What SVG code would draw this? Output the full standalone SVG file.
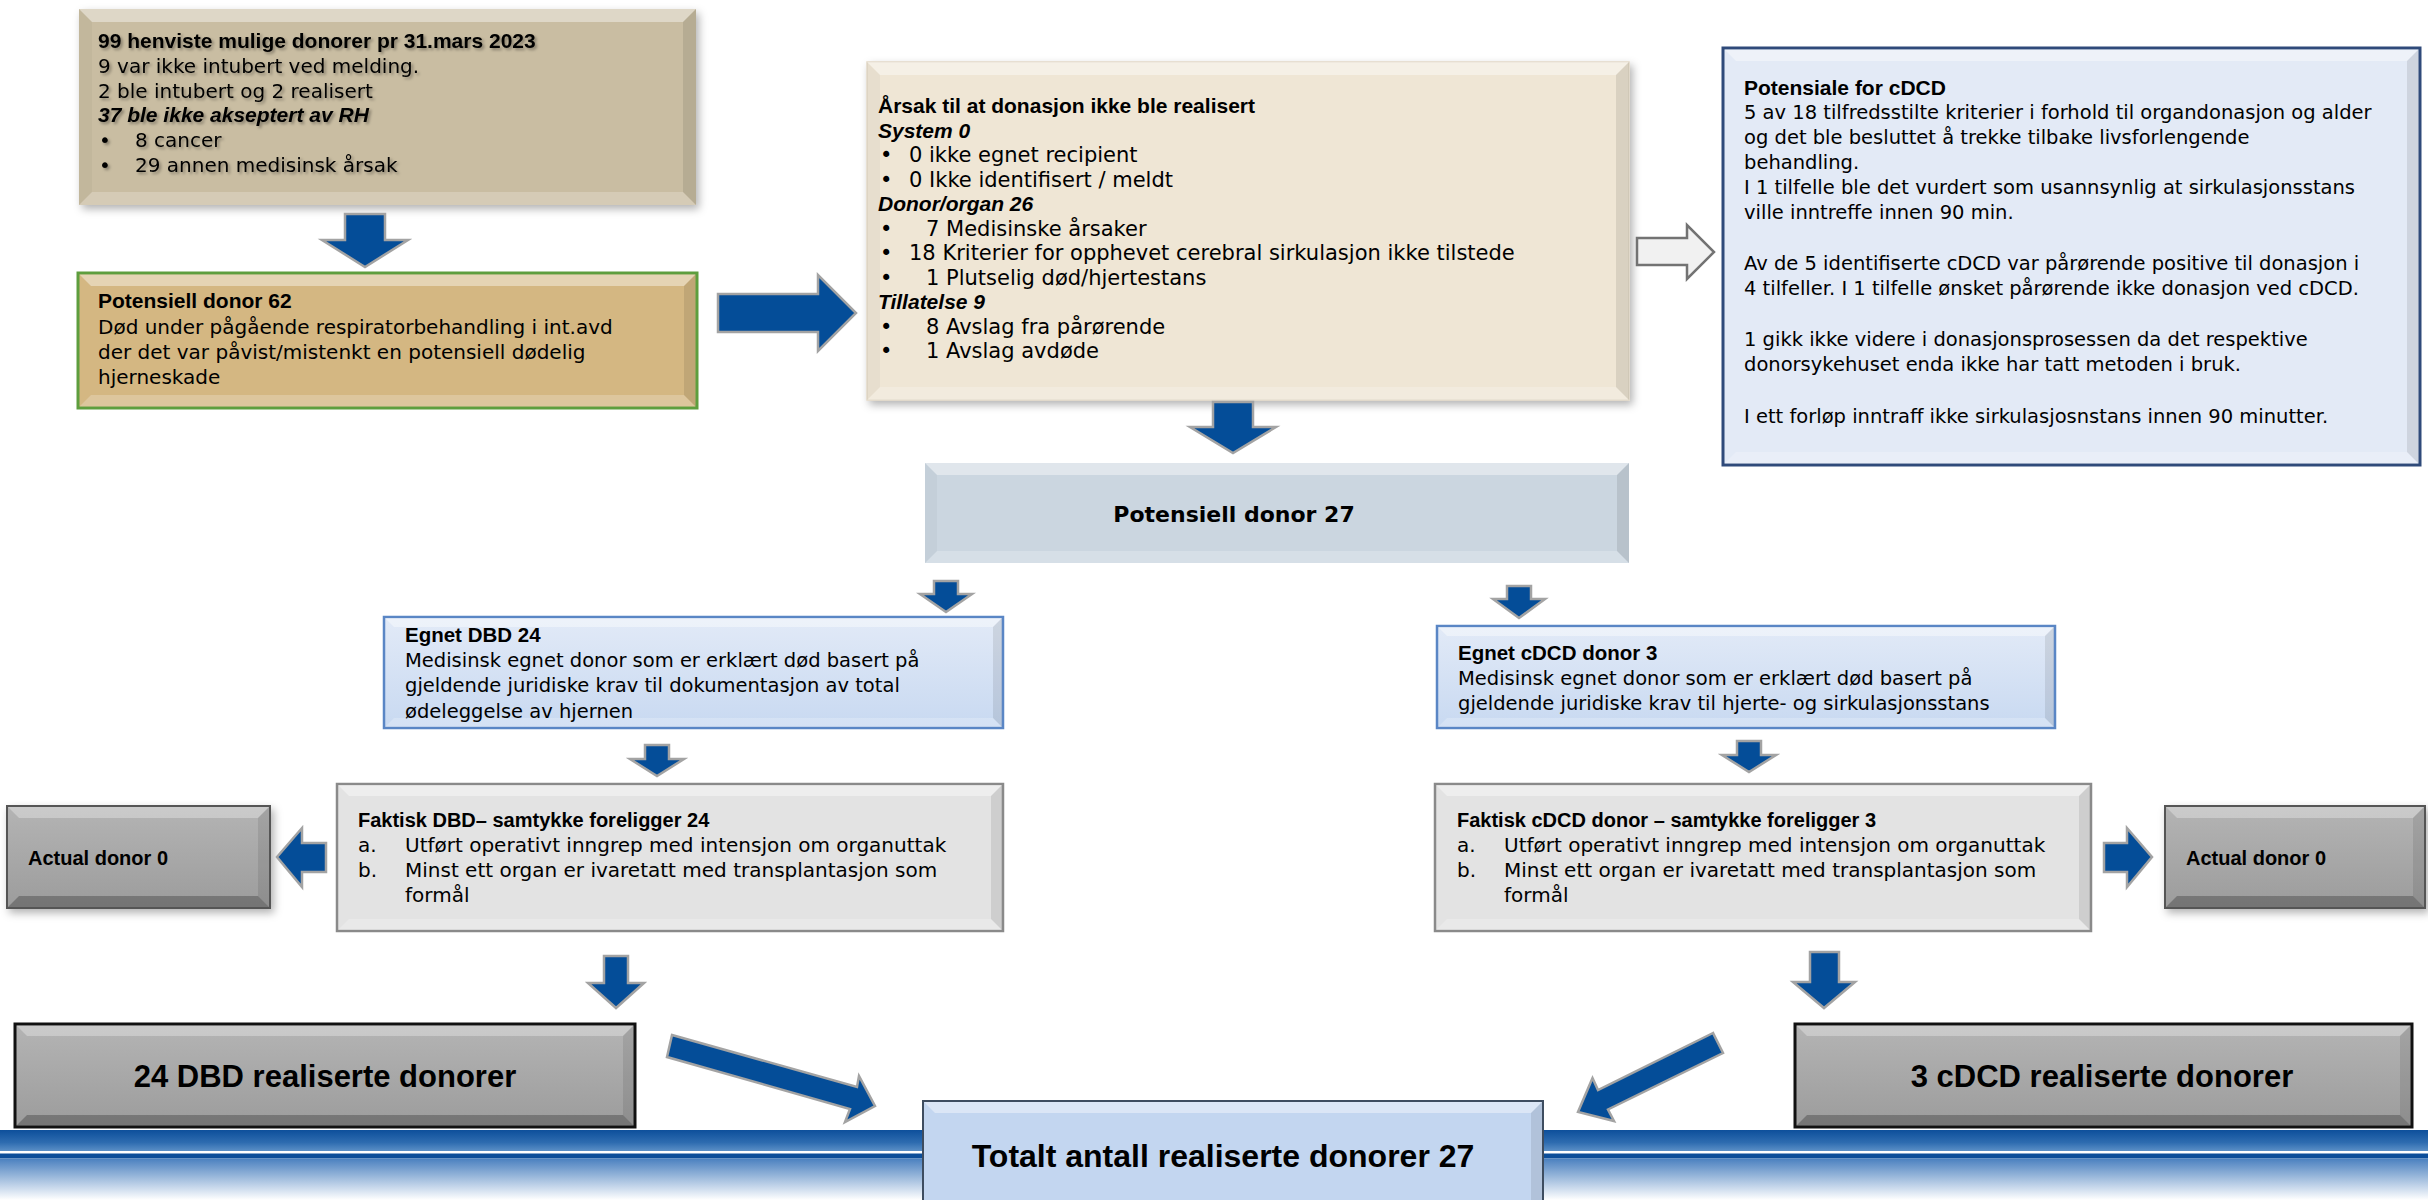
<svg xmlns="http://www.w3.org/2000/svg" width="2428" height="1200" viewBox="0 0 2428 1200">
<defs>
<style>
.t{font-family:"DejaVu Sans","Liberation Sans",Arial,sans-serif;font-size:20px;fill:#000}
.b{font-family:"Liberation Sans",Arial,sans-serif;font-weight:bold;font-size:21px}
.bi{font-family:"Liberation Sans",Arial,sans-serif;font-weight:bold;font-style:italic;font-size:21px}
.big{font-family:"Liberation Sans",Arial,sans-serif;font-weight:bold;font-size:31px;fill:#000}
.bt{fill:#fff;fill-opacity:.4}
.bb{fill:#fff;fill-opacity:.22}
.bl{fill:#000;fill-opacity:.03}
.br{fill:#000;fill-opacity:.09}
.dbt{fill:#fff;fill-opacity:.3}
.dbb{fill:#000;fill-opacity:.25}
.arr{fill:#044d98;stroke:#a3a3a3;stroke-width:2.5;stroke-linejoin:miter}
.hol{fill:#f1f1f1;stroke:#737373;stroke-width:2.5}
</style>
<filter id="sh" x="-5%" y="-5%" width="115%" height="130%"><feDropShadow dx="3" dy="4" stdDeviation="4" flood-color="#000" flood-opacity="0.3"/></filter>
<filter id="ts" x="-5%" y="-20%" width="115%" height="160%"><feDropShadow dx="2" dy="2" stdDeviation="1.5" flood-color="#000" flood-opacity="0.35"/></filter>
<linearGradient id="gBlue" x1="0" y1="0" x2="0" y2="1"><stop offset="0" stop-color="#e2eaf7"/><stop offset="1" stop-color="#c8d9f1"/></linearGradient>
<linearGradient id="gGray" x1="0" y1="0" x2="0" y2="1"><stop offset="0" stop-color="#b4b4b4"/><stop offset="1" stop-color="#9c9c9c"/></linearGradient>
<linearGradient id="gBand" x1="0" y1="0" x2="0" y2="1"><stop offset="0" stop-color="#0d4f9b"/><stop offset="0.6" stop-color="#2e6cb0"/><stop offset="1" stop-color="#5b8fc6"/></linearGradient>
<linearGradient id="gFade" x1="0" y1="0" x2="0" y2="1"><stop offset="0" stop-color="#4a80bf"/><stop offset="1" stop-color="#ffffff"/></linearGradient>
</defs>
<rect width="2428" height="1200" fill="#fff"/>

<g id="band">
<rect x="0" y="1130" width="2428" height="21" fill="url(#gBand)"/>
<rect x="0" y="1151" width="2428" height="2.5" fill="#ffffff"/>
<rect x="0" y="1153.5" width="2428" height="5" fill="#0c4e9a"/>
<rect x="0" y="1158.5" width="2428" height="41.5" fill="url(#gFade)"/>
</g>

<g id="n1">
<rect x="79" y="9" width="617" height="196" fill="#c9bda2" filter="url(#sh)"/>
<polygon class="bt" points="79,9 696,9 683,22 92,22"/>
<polygon class="bb" points="79,205 696,205 683,192 92,192"/>
<polygon class="bl" points="79,9 92,22 92,192 79,205"/>
<polygon class="br" points="696,9 683,22 683,192 696,205"/>
<g class="t" filter="url(#ts)">
<text x="98" y="48" class="b">99 henviste mulige donorer pr 31.mars 2023</text>
<text x="98" y="73">9 var ikke intubert ved melding.</text>
<text x="98" y="98">2 ble intubert og 2 realisert</text>
<text x="98" y="122" class="bi">37 ble ikke akseptert av RH</text>
<text x="99" y="147">•</text><text x="135" y="147">8 cancer</text>
<text x="99" y="172">•</text><text x="135" y="172">29 annen medisinsk årsak</text>
</g>
</g>

<g id="n2">
<rect x="78" y="273" width="619" height="135" fill="#d4b782" stroke="#5e9e3e" stroke-width="3"/>
<polygon class="bt" points="79.5,274.5 695.5,274.5 684,286 91,286"/>
<polygon class="bb" points="79.5,406.5 695.5,406.5 684,395 91,395"/>
<polygon class="br" points="695.5,274.5 684,286 684,395 695.5,406.5"/>
<g class="t">
<text x="98" y="308" class="b">Potensiell donor 62</text>
<text x="98" y="334">Død under pågående respiratorbehandling i int.avd</text>
<text x="98" y="359">der det var påvist/mistenkt en potensiell dødelig</text>
<text x="98" y="384">hjerneskade</text>
</g>
</g>

<g id="n3">
<rect x="867" y="62" width="762" height="338" fill="#efe6d5" stroke="#e2d8c6" stroke-width="1.5" filter="url(#sh)"/>
<polygon class="bt" points="867,62 1629,62 1616,75 880,75"/>
<polygon class="bb" points="867,400 1629,400 1616,387 880,387"/>
<polygon class="bl" points="867,62 880,75 880,387 867,400"/>
<polygon class="br" points="1629,62 1616,75 1616,387 1629,400"/>
<g class="t" style="font-size:21px">
<text x="878" y="113" class="b">Årsak til at donasjon ikke ble realisert</text>
<text x="878" y="137.5" class="bi">System 0</text>
<text x="880" y="162">•</text><text x="909" y="162">0 ikke egnet recipient</text>
<text x="880" y="186.5">•</text><text x="909" y="186.5">0 Ikke identifisert / meldt</text>
<text x="878" y="211" class="bi">Donor/organ 26</text>
<text x="880" y="235.5">•</text><text x="926" y="235.5">7 Medisinske årsaker</text>
<text x="880" y="260">•</text><text x="909" y="260">18 Kriterier for opphevet cerebral sirkulasjon ikke tilstede</text>
<text x="880" y="284.5">•</text><text x="926" y="284.5">1 Plutselig død/hjertestans</text>
<text x="878" y="309" class="bi">Tillatelse 9</text>
<text x="880" y="333.5">•</text><text x="926" y="333.5">8 Avslag fra pårørende</text>
<text x="880" y="358">•</text><text x="926" y="358">1 Avslag avdøde</text>
</g>
</g>

<g id="n4">
<rect x="1723" y="48" width="697" height="417" fill="#e3eaf6" stroke="#2f4a7a" stroke-width="3"/>
<polygon class="bt" points="1724.5,49.5 2418.5,49.5 2407,61 1736,61"/>
<polygon class="bb" points="1724.5,463.5 2418.5,463.5 2407,452 1736,452"/>
<polygon class="br" points="2418.5,49.5 2407,61 2407,452 2418.5,463.5"/>
<g class="t" style="font-size:19.5px">
<text x="1744" y="95" class="b">Potensiale for cDCD</text>
<text x="1744" y="119">5 av 18 tilfredsstilte kriterier i forhold til organdonasjon og alder</text>
<text x="1744" y="144">og det ble besluttet å trekke tilbake livsforlengende</text>
<text x="1744" y="169">behandling.</text>
<text x="1744" y="194">I 1 tilfelle ble det vurdert som usannsynlig at sirkulasjonsstans</text>
<text x="1744" y="219">ville inntreffe innen 90 min.</text>
<text x="1744" y="270">Av de 5 identifiserte cDCD var pårørende positive til donasjon i</text>
<text x="1744" y="295">4 tilfeller. I 1 tilfelle ønsket pårørende ikke donasjon ved cDCD.</text>
<text x="1744" y="346">1 gikk ikke videre i donasjonsprosessen da det respektive</text>
<text x="1744" y="371">donorsykehuset enda ikke har tatt metoden i bruk.</text>
<text x="1744" y="423">I ett forløp inntraff ikke sirkulasjosnstans innen 90 minutter.</text>
</g>
</g>

<g id="n5">
<rect x="925" y="463" width="704" height="100" fill="#cbd6e0"/>
<polygon class="bt" points="925,463 1629,463 1617,475 937,475"/>
<polygon class="bb" points="925,563 1629,563 1617,551 937,551"/>
<polygon class="bl" points="925,463 937,475 937,551 925,563"/>
<polygon class="br" points="1629,463 1617,475 1617,551 1629,563"/>
<text x="1234" y="522" font-family="DejaVu Sans,sans-serif" font-weight="bold" font-size="22" text-anchor="middle">Potensiell donor 27</text>
</g>

<g id="n6">
<rect x="384" y="617" width="619" height="111" fill="url(#gBlue)" stroke="#5a86c5" stroke-width="2.5"/>
<polygon class="bt" points="385,618 1002,618 993,627 394,627"/>
<polygon class="br" points="1002,618 993,627 993,718 1002,727"/>
<polygon class="bb" points="385,727 1002,727 993,718 394,718"/>
<g class="t" style="font-size:19.5px">
<text x="405" y="642" class="b" style="font-size:20.5px">Egnet DBD 24</text>
<text x="405" y="667">Medisinsk egnet donor som er erklært død basert på</text>
<text x="405" y="692">gjeldende juridiske krav til dokumentasjon  av total</text>
<text x="405" y="718">ødeleggelse av hjernen</text>
</g>
</g>

<g id="n7">
<rect x="1437" y="626" width="618" height="102" fill="url(#gBlue)" stroke="#5a86c5" stroke-width="2.5"/>
<polygon class="bt" points="1438,627 2054,627 2045,636 1447,636"/>
<polygon class="br" points="2054,627 2045,636 2045,718 2054,727"/>
<polygon class="bb" points="1438,727 2054,727 2045,718 1447,718"/>
<g class="t" style="font-size:19.5px">
<text x="1458" y="660" class="b" style="font-size:20.5px">Egnet cDCD donor 3</text>
<text x="1458" y="685">Medisinsk egnet donor som er erklært død basert på</text>
<text x="1458" y="710">gjeldende juridiske krav til hjerte- og sirkulasjonsstans</text>
</g>
</g>

<g id="n8">
<rect x="337" y="784" width="666" height="147" fill="#e3e3e3" stroke="#8a8a8a" stroke-width="2.5"/>
<polygon class="bt" points="338,785 1002,785 991,796 349,796"/>
<polygon class="bb" points="338,930 1002,930 991,919 349,919"/>
<polygon class="br" points="1002,785 991,796 991,919 1002,930"/>
<g class="t">
<text x="358" y="827" class="b" style="font-size:20px">Faktisk DBD– samtykke foreligger 24</text>
<text x="358" y="852">a.</text><text x="405" y="852">Utført operativt inngrep med intensjon om organuttak</text>
<text x="358" y="877">b.</text><text x="405" y="877">Minst ett organ er ivaretatt med transplantasjon som</text>
<text x="405" y="902">formål</text>
</g>
</g>

<g id="n9">
<rect x="1435" y="784" width="656" height="147" fill="#e3e3e3" stroke="#8a8a8a" stroke-width="2.5"/>
<polygon class="bt" points="1436,785 2090,785 2079,796 1447,796"/>
<polygon class="bb" points="1436,930 2090,930 2079,919 1447,919"/>
<polygon class="br" points="2090,785 2079,796 2079,919 2090,930"/>
<g class="t">
<text x="1457" y="827" class="b" style="font-size:20px">Faktisk cDCD donor – samtykke foreligger 3</text>
<text x="1457" y="852">a.</text><text x="1504" y="852">Utført operativt inngrep med intensjon om organuttak</text>
<text x="1457" y="877">b.</text><text x="1504" y="877">Minst ett organ er ivaretatt med transplantasjon som</text>
<text x="1504" y="902">formål</text>
</g>
</g>

<g id="n10">
<rect x="7" y="806" width="263" height="102" fill="url(#gGray)" stroke="#555" stroke-width="2" filter="url(#sh)"/>
<polygon class="dbt" points="8,807 269,807 258,818 19,818"/>
<polygon class="dbb" points="8,907 269,907 258,896 19,896"/>
<polygon class="br" points="269,807 258,818 258,896 269,907"/>
<text x="28" y="865" class="b" style="font-size:20px">Actual donor 0</text>
</g>

<g id="n11">
<rect x="2165" y="806" width="260" height="102" fill="url(#gGray)" stroke="#555" stroke-width="2" filter="url(#sh)"/>
<polygon class="dbt" points="2166,807 2424,807 2413,818 2177,818"/>
<polygon class="dbb" points="2166,907 2424,907 2413,896 2177,896"/>
<polygon class="br" points="2424,807 2413,818 2413,896 2424,907"/>
<text x="2186" y="865" class="b" style="font-size:20px">Actual donor 0</text>
</g>

<g id="n12">
<rect x="15" y="1024" width="620" height="103" fill="url(#gGray)" stroke="#111" stroke-width="3"/>
<polygon class="dbt" points="16.5,1025.5 633.5,1025.5 623,1036 27,1036"/>
<polygon class="dbb" points="16.5,1125.5 633.5,1125.5 623,1115 27,1115"/>
<polygon class="br" points="633.5,1025.5 623,1036 623,1115 633.5,1125.5"/>
<text x="325" y="1087" class="big" text-anchor="middle">24 DBD realiserte donorer</text>
</g>

<g id="n13">
<rect x="1795" y="1024" width="617" height="103" fill="url(#gGray)" stroke="#111" stroke-width="3"/>
<polygon class="dbt" points="1796.5,1025.5 2410.5,1025.5 2400,1036 1807,1036"/>
<polygon class="dbb" points="1796.5,1125.5 2410.5,1125.5 2400,1115 1807,1115"/>
<polygon class="br" points="2410.5,1025.5 2400,1036 2400,1115 2410.5,1125.5"/>
<text x="2102" y="1087" class="big" text-anchor="middle">3 cDCD realiserte donorer</text>
</g>

<g id="n14">
<rect x="923" y="1101" width="620" height="110" fill="#c3d6f0" stroke="#3e4d60" stroke-width="2"/>
<polygon class="bt" points="924,1102 1542,1102 1531,1113 935,1113"/>
<polygon class="br" points="1542,1102 1531,1113 1531,1200 1542,1200"/>
<text x="1223" y="1167" class="big" style="font-size:32px" text-anchor="middle">Totalt antall realiserte donorer 27</text>
</g>

<g id="connectors">
<polygon class="arr" points="345,214 385,214 385,240 408,240 365,267 322,240 345,240"/>
<polygon class="arr" points="718,294 818,294 818,275 856,313 818,351 818,332 718,332"/>
<polygon class="hol" points="1637,238 1687,238 1687,225 1714,252 1687,279 1687,265 1637,265"/>
<polygon class="arr" points="1213,402 1253,402 1253,427 1276,427 1233,453 1190,427 1213,427"/>
<polygon class="arr" points="934,581 958,581 958,594 972,594 946,612 920,594 934,594"/>
<polygon class="arr" points="1507,586 1531,586 1531,599 1545,599 1519,618 1493,599 1507,599"/>
<polygon class="arr" points="645,745 669,745 669,759 684,759 657,776 630,759 645,759"/>
<polygon class="arr" points="1737,741 1761,741 1761,755 1776,755 1749,772 1722,755 1737,755"/>
<polygon class="arr" points="326,843 302,843 302,828 277,857 302,887 302,872 326,872"/>
<polygon class="arr" points="2104,843 2127,843 2127,828 2152,857 2127,887 2127,872 2104,872"/>
<polygon class="arr" points="604,956 628,956 628,983 644,983 616,1008 588,983 604,983"/>
<polygon class="arr" points="1810,952 1839,952 1839,982 1855,982 1824,1008 1793,982 1810,982"/>
<polygon class="arr" points="672,1035 857,1087 859,1076 875,1106 845,1122 850,1109 667,1057"/>
<polygon class="arr" points="1713,1033 1598,1090 1592.5,1078 1578,1112 1614,1121 1608,1109.5 1723,1053"/>
</g>
</svg>
